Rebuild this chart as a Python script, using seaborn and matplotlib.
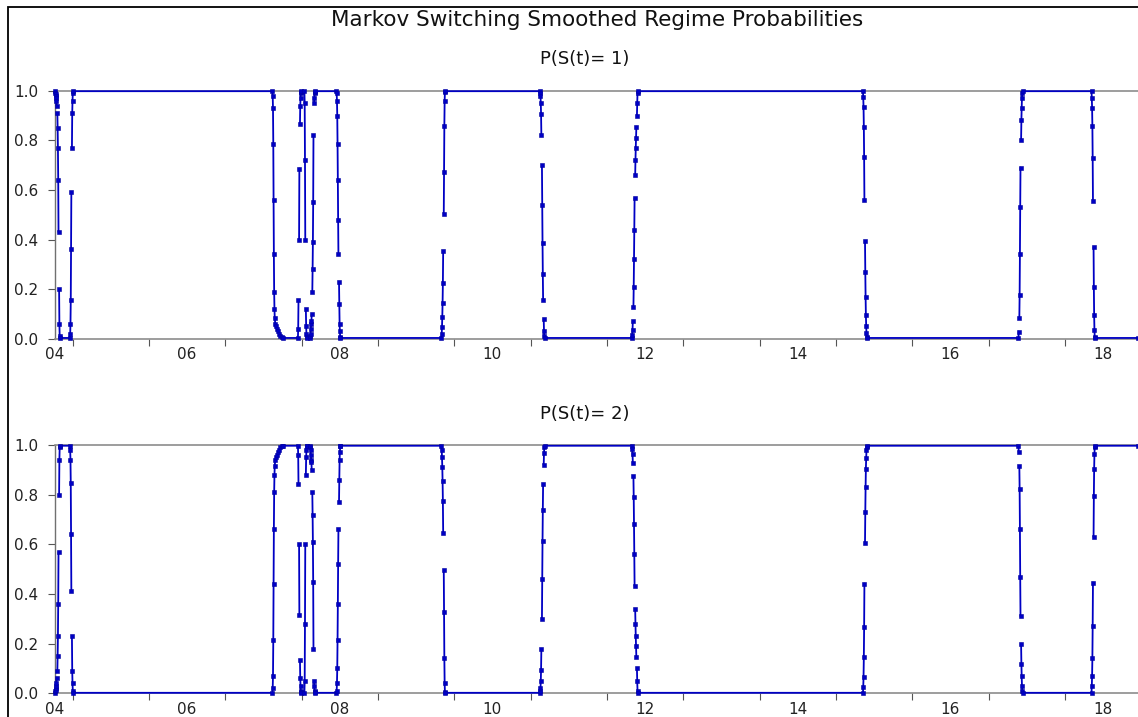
import numpy as np
import pandas as pd
import seaborn as sns
import matplotlib.pyplot as plt
from matplotlib.patches import Rectangle

nan = np.nan

# smoothed probability of regime 1
# each switching episode starts at a decimal year, points are step_days apart,
# nan = missing day (line is broken there). Flat stretches join the episodes.
start_years = [2004.770, 2004.965, 2007.618, 2007.655, 2007.952, 2008.037, 2008.110,
               2008.456, 2009.832, 2011.122, 2012.328, 2015.354, 2017.391, 2018.348, 2018.957]
step_days = [1.4, 1.4, 1.4, 5.0, 1.4, 1.4, 1.4, 1.4, 1.4, 1.4, 1.4, 1.4, 1.4, 1.4, 1.4]

ep_2004a = [1.0, 0.99, 0.985, 0.98, 0.97, 0.96, 0.94, nan, 0.91, 0.85, 0.77, 0.64, 0.43,
            nan, 0.20, 0.06, 0.01, 0.003]
ep_2004b = [0.003, 0.02, 0.06, 0.155, 0.36, 0.59, nan, 0.77, 0.91, 0.96, 0.99, 0.998]
ep_2007a = [0.998, 0.98, 0.93, 0.785, 0.56, 0.34, 0.19, 0.12, 0.085]
ep_2007b = [0.06, 0.05, 0.04, 0.03, 0.02, 0.01, 0.005, 0.003]
ep_2007c = [0.003, 0.04, 0.156, nan, 0.40, 0.686, nan, 0.866, 0.94, 0.97, 0.99, 0.995, 0.998]
ep_2008a = [0.998, 0.95, 0.72, 0.40, nan, 0.12, 0.05, 0.02, 0.005, 0.003]
ep_2008b = [0.003, 0.01, 0.02, 0.04, 0.06, 0.07, 0.10, nan, 0.19, 0.28, 0.39, 0.55, 0.82,
            nan, 0.95, 0.97, 0.99, 0.995, 0.998]
ep_2008c = [0.998, 0.99, 0.96, 0.90, 0.785, 0.64, 0.48, 0.34, nan, 0.23, 0.14, 0.06, 0.03,
            0.005, 0.003]
ep_2009 = [0.003, 0.02, 0.048, 0.089, 0.145, 0.226, 0.354, nan, 0.503, 0.674, 0.858, 0.958,
           0.996, 0.998]
ep_2011 = [0.998, 0.99, 0.98, 0.952, 0.906, 0.821, nan, 0.70, 0.539, 0.387, 0.261, 0.156,
           nan, 0.08, 0.033, 0.01, 0.003]
ep_2012 = [0.003, 0.015, 0.036, 0.072, nan, 0.126, 0.21, 0.32, 0.44, 0.567, nan, 0.66, 0.72,
           0.77, 0.811, 0.855, nan, 0.90, 0.952, 0.99, 0.998]
ep_2015 = [0.998, 0.974, 0.934, 0.855, 0.734, 0.558, nan, 0.394, 0.269, 0.17, 0.096, 0.053,
           0.022, 0.008, 0.003]
ep_2017 = [0.003, 0.029, nan, 0.085, 0.176, 0.34, 0.53, 0.69, nan, 0.80, 0.88, 0.93, 0.97,
           0.99, 0.998]
ep_2018 = [0.998, 0.97, 0.93, 0.857, 0.727, 0.554, nan, 0.37, 0.207, 0.096, 0.036, 0.008, 0.003]
ep_end = [0.003]

episodes = [ep_2004a, ep_2004b, ep_2007a, ep_2007b, ep_2007c, ep_2008a, ep_2008b, ep_2008c,
            ep_2009, ep_2011, ep_2012, ep_2015, ep_2017, ep_2018, ep_end]

x_labels = ['04', '06', '08', '10', '12', '14', '16', '18']
y_ticks = [0.0, 0.2, 0.4, 0.6, 0.8, 1.0]

# armar la serie con segmentos (se corta en los nan)
rows = []
seg = 0
for start, step, vals in zip(start_years, step_days, episodes):
    for i, v in enumerate(vals):
        if np.isnan(v):
            seg += 1
            continue
        rows.append((start + i * step / 365.25, v, seg))
df = pd.DataFrame(rows, columns=['t', 'p1', 'seg'])
df['p2'] = 1 - df['p1']

sns.set_theme(style='white')
plt.rcParams['font.family'] = ['DejaVu Sans']

W, H = 1138, 717
fig = plt.figure(figsize=(W / 100, H / 100), dpi=100)
ax1 = fig.add_axes([55 / W, (H - 338.7) / H, 1 - 55 / W, 248 / H])
ax2 = fig.add_axes([55 / W, (H - 693.3) / H, 1 - 55 / W, 248.3 / H])

xmin, xmax = start_years[0], start_years[-1]
label_pos = [xmin] + [y + 0.5 for y in range(2006, 2019, 2)]

for ax, col in [(ax1, 'p1'), (ax2, 'p2')]:
    sns.lineplot(data=df, x='t', y=col, units='seg', estimator=None, sort=False,
                 color='#0000c4', lw=1.3, marker='s', markersize=2.5,
                 markeredgewidth=0.4, markeredgecolor='#0000a0', ax=ax)
    for ln in ax.lines:
        ln.set_clip_on(False)
        ln.set_zorder(3)
    ax.set_xlim(xmin, xmax)
    ax.set_ylim(0, 1)
    ax.set_xlabel('')
    ax.set_ylabel('')
    ax.spines['right'].set_visible(False)
    for s in ['top', 'bottom']:
        ax.spines[s].set_color('#8c8c8c')
        ax.spines[s].set_linewidth(1.2)
    ax.spines['left'].set_color('#707070')
    ax.spines['left'].set_linewidth(1.0)
    ax.set_yticks(y_ticks)
    ax.set_yticklabels([f'{v:.1f}' for v in y_ticks])
    ax.set_xticks(range(2005, 2019))
    ax.set_xticklabels([''] * 14)
    ax.set_xticks(label_pos, minor=True)
    ax.set_xticklabels(x_labels, minor=True)
    ax.tick_params(axis='both', which='major', direction='out', length=5, width=0.8,
                   color='#555555', labelsize=11, labelcolor='#222222')
    ax.tick_params(axis='y', pad=7, left=True)
    ax.tick_params(axis='x', which='major', bottom=True)
    ax.tick_params(axis='x', which='minor', length=0, pad=6, labelsize=11,
                   labelcolor='#222222')
    ax.set_facecolor('white')

fig.text(597 / W, 1 - 20 / H, 'Markov Switching Smoothed Regime Probabilities',
         ha='center', va='center', fontsize=15.5, color='#111111')
fig.text(585 / W, 1 - 59 / H, 'P(S(t)= 1)', ha='center', va='center', fontsize=13,
         color='#111111')
fig.text(585 / W, 1 - 414 / H, 'P(S(t)= 2)', ha='center', va='center', fontsize=13,
         color='#111111')

# marco negro de la ventana
fig.add_artist(Rectangle((8 / W, -0.02), 1.2, (H - 7) / H + 0.02, transform=fig.transFigure,
                         fill=False, ec='black', lw=1.3))

fig.savefig('out.png', dpi=100)
